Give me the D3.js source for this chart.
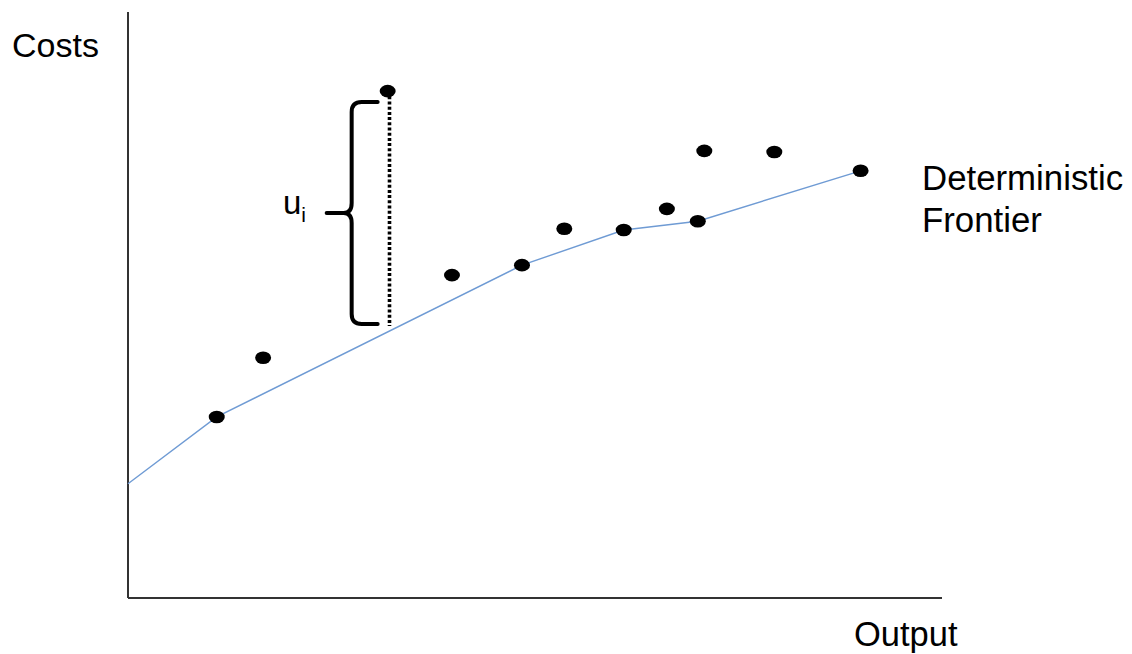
<!DOCTYPE html>
<html>
<head>
<meta charset="utf-8">
<script src="https://cdn.jsdelivr.net/npm/d3@7"></script>
<style>
  html, body { margin: 0; padding: 0; background: #fff; }
  svg { display: block; }
  text { font-family: "Liberation Sans", Arial, sans-serif; fill: #000; }
</style>
</head>
<body>
<svg id="chart" width="1132" height="654"></svg>
<script>
// ---- data (abstract units 0-100 on both axes) ----
const pointOutput = [10.9, 16.6, 31.9, 39.8, 48.4, 53.6, 60.9, 66.2, 70.0, 70.8, 79.4, 90.0];
const pointCost   = [30.9, 41.0, 86.5, 55.1, 56.8, 63.0, 62.8, 66.4, 64.3, 76.3, 76.1, 72.9];
const frontierOutput = [0, 10.9, 48.4, 60.9, 70.0, 90.0];
const frontierCost   = [19.5, 30.9, 56.8, 62.8, 64.3, 72.9];
const uiOutput = 31.9;     // observation whose inefficiency is marked
const uiTop = 86.5;        // its cost
const uiBase = 46.4;       // frontier cost at that output
const xLabel = "Output";
const yLabel = "Costs";
const frontierLabel = ["Deterministic", "Frontier"];

const svg = d3.select("#chart");
const x = d3.scaleLinear().domain([0, 100]).range([128, 942]);
const y = d3.scaleLinear().domain([0, 100]).range([598, 12]);

// axes (plain lines, no ticks)
svg.append("line").attr("x1", x(0)).attr("x2", x(0)).attr("y1", y(100)).attr("y2", y(0))
  .attr("stroke", "#333").attr("stroke-width", 2);
svg.append("line").attr("x1", x(0)).attr("x2", x(100)).attr("y1", y(0)).attr("y2", y(0))
  .attr("stroke", "#333").attr("stroke-width", 2);

// frontier line
const fr = frontierOutput.map((v, i) => [v, frontierCost[i]]);
svg.append("path").datum(fr)
  .attr("d", d3.line().x(d => x(d[0])).y(d => y(d[1])))
  .attr("fill", "none").attr("stroke", "#6f9bd4").attr("stroke-width", 1.4);

// dotted inefficiency line
const dx = Math.round(x(uiOutput)) + 1.5;
svg.append("line")
  .attr("x1", dx).attr("x2", dx)
  .attr("y1", y(uiTop)).attr("y2", y(uiBase))
  .attr("stroke", "#000").attr("stroke-width", 3.6).attr("stroke-dasharray", "3,2.2");

// brace
const bTop = y(uiTop) + 11, bBot = y(uiBase) - 2;
const bx = x(uiOutput) - 36, bRight = x(uiOutput) - 10, bTip = x(uiOutput) - 61;
const bMid = (bTop + bBot) / 2;
const r = 10;
const bp = d3.path();
bp.moveTo(bRight, bTop);
bp.lineTo(bx + r, bTop);
bp.quadraticCurveTo(bx, bTop, bx, bTop + r);
bp.lineTo(bx, bMid - r);
bp.quadraticCurveTo(bx, bMid, bx - 8, bMid);
bp.lineTo(bTip, bMid);
bp.moveTo(bx - 8, bMid);
bp.quadraticCurveTo(bx, bMid, bx, bMid + r);
bp.lineTo(bx, bBot - r);
bp.quadraticCurveTo(bx, bBot, bx + r, bBot);
bp.lineTo(bRight, bBot);
svg.append("path").attr("d", bp.toString())
  .attr("fill", "none").attr("stroke", "#000").attr("stroke-width", 4)
  .attr("stroke-linecap", "round").attr("stroke-linejoin", "round");

// u_i label
const ui = svg.append("text").attr("x", 283).attr("y", bMid + 1).attr("font-size", 33);
ui.append("tspan").text("u");
ui.append("tspan").attr("font-size", 21).attr("dy", 8).text("i");

// points
svg.append("g").selectAll("ellipse")
  .data(pointOutput.map((v, i) => [v, pointCost[i]]))
  .join("ellipse")
  .attr("cx", d => x(d[0])).attr("cy", d => y(d[1]))
  .attr("rx", 8).attr("ry", 6.3).attr("fill", "#000");

// labels
svg.append("text").attr("x", 12).attr("y", 56.5).attr("font-size", 34).text(yLabel);
svg.append("text").attr("x", 854).attr("y", 646).attr("font-size", 34.5).text(xLabel);
svg.append("text").attr("x", 922).attr("y", 190).attr("font-size", 34.8).text(frontierLabel[0]);
svg.append("text").attr("x", 922).attr("y", 231.5).attr("font-size", 34.8).text(frontierLabel[1]);
</script>
</body>
</html>
